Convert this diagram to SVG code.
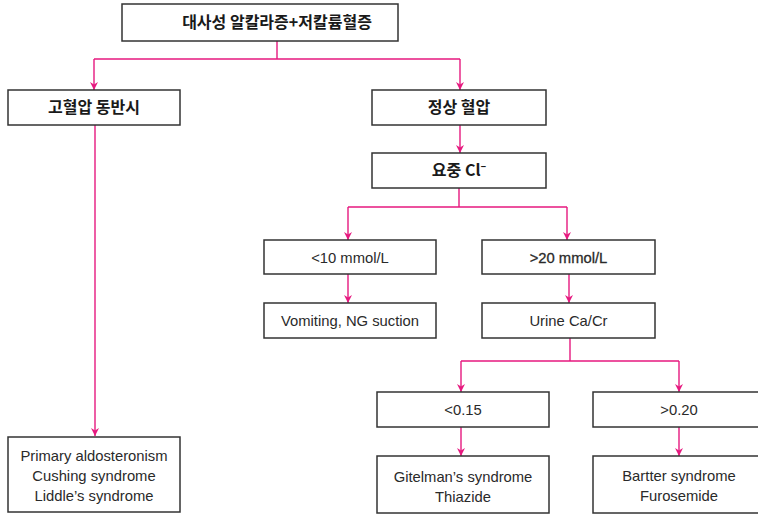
<svg xmlns="http://www.w3.org/2000/svg" width="758" height="516" viewBox="0 0 758 516">
<defs>
<marker id="ah" viewBox="0 0 10 10" refX="10" refY="5" markerWidth="10" markerHeight="8" markerUnits="userSpaceOnUse" orient="auto">
<path d="M0,0 L10,5 L0,10 L3,5 z" fill="#e6197f"/>
</marker>
<style>
.box{fill:#fff;stroke:#333;stroke-width:1.5}
.kr{font-family:"Noto Sans CJK KR","Noto Sans",sans-serif;font-weight:bold;font-size:16px;fill:#1a1a1a;text-anchor:middle}
.en{font-family:"Liberation Sans",Arial,sans-serif;font-size:14.8px;fill:#2a2a2a;text-anchor:middle}
.bd{stroke:#2a2a2a;stroke-width:0.3}
.ln{fill:none;stroke:#e6197f;stroke-width:1.4}
.ar{fill:none;stroke:#e6197f;stroke-width:1.4;marker-end:url(#ah)}
</style>
</defs>
<rect width="758" height="516" fill="#fff"/>
<g id="connectors">
<path class="ln" d="M277,41 V59 M94,59 H460"/>
<path class="ar" d="M94,59 V90"/>
<path class="ar" d="M460,59 V90"/>
<path class="ar" d="M95,125 V436"/>
<path class="ar" d="M460,125 V153"/>
<path class="ln" d="M459,188 V207 M348,207 H567"/>
<path class="ar" d="M348,207 V240"/>
<path class="ar" d="M567,207 V240"/>
<path class="ar" d="M348,274 V303"/>
<path class="ar" d="M569,274 V303"/>
<path class="ln" d="M570,338 V361 M461,361 H679"/>
<path class="ar" d="M461,361 V392"/>
<path class="ar" d="M679,361 V392"/>
<path class="ar" d="M461,427 V456"/>
<path class="ar" d="M679,427 V456"/>
</g>
<g id="n-top"><rect class="box" x="122" y="4" width="276" height="37"/><text class="kr" x="277" y="28">대사성 알칼라증+저칼륨혈증</text></g>
<g id="n-htn"><rect class="box" x="8" y="90" width="172" height="35"/><text class="kr" x="94" y="113">고혈압 동반시</text></g>
<g id="n-normal"><rect class="box" x="372" y="90" width="174" height="35"/><text class="kr" x="459" y="113">정상 혈압</text></g>
<g id="n-ucl"><rect class="box" x="372" y="153" width="174" height="35"/><text class="kr" x="459" y="176">요중 Cl⁻</text></g>
<g id="n-lt10"><rect class="box" x="264" y="240" width="172" height="34"/><text class="en" x="350" y="262.5">&lt;10 mmol/L</text></g>
<g id="n-gt20"><rect class="box" x="482" y="240" width="173" height="34"/><text class="en bd" x="568.5" y="262.5">&gt;20 mmol/L</text></g>
<g id="n-vomit"><rect class="box" x="264" y="303" width="172" height="35"/><text class="en" x="350" y="326">Vomiting, NG suction</text></g>
<g id="n-ucacr"><rect class="box" x="482" y="303" width="173" height="35"/><text class="en" x="568.5" y="326">Urine Ca/Cr</text></g>
<g id="n-lt015"><rect class="box" x="377" y="392" width="172" height="35"/><text class="en" x="463" y="415">&lt;0.15</text></g>
<g id="n-gt020"><rect class="box" x="593" y="392" width="172" height="35"/><text class="en" x="679" y="415">&gt;0.20</text></g>
<g id="n-gitelman"><rect class="box" x="377" y="456" width="172" height="57"/><text class="en" x="463" y="481.5">Gitelman’s syndrome</text><text class="en" x="463" y="501.5">Thiazide</text></g>
<g id="n-bartter"><rect class="box" x="593" y="456" width="172" height="57"/><text class="en" x="679" y="480.5">Bartter syndrome</text><text class="en" x="679" y="500.5">Furosemide</text></g>
<g id="n-primary"><rect class="box" x="8" y="437" width="172" height="75"/><text class="en" x="94" y="460.5">Primary aldosteronism</text><text class="en" x="94" y="480.5">Cushing syndrome</text><text class="en" x="94" y="500.5">Liddle’s syndrome</text></g>
</svg>
